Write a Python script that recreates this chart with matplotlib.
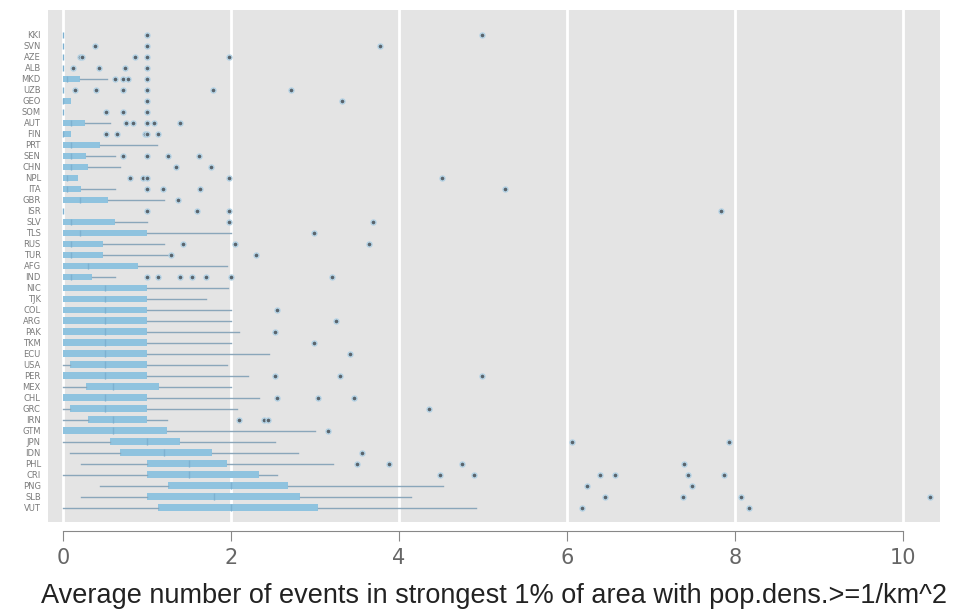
import matplotlib.pyplot as plt

# row labels, top to bottom
labels = ["KKI", "SVN", "AZE", "ALB", "MKD", "UZB", "GEO", "SOM", "AUT", "FIN",
          "PRT", "SEN", "CHN", "NPL", "ITA", "GBR", "ISR", "SLV", "TLS", "RUS",
          "TUR", "AFG", "IND", "NIC", "TJK", "COL", "ARG", "PAK", "TKM", "ECU",
          "USA", "PER", "MEX", "CHL", "GRC", "IRN", "GTM", "JPN", "IDN", "PHL",
          "CRI", "PNG", "SLB", "VUT"]

q1 = [0, 0, 0, 0, 0, 0, 0, 0, 0, 0,
      0, 0, 0, 0, 0, 0, 0, 0, 0, 0,
      0, 0, 0, 0, 0, 0, 0, 0, 0, 0,
      0.08, 0, 0.28, 0, 0.08, 0.3, 0, 0.56, 0.68, 1.0,
      1.0, 1.25, 1.0, 1.13]
med = [0, 0, 0, 0, 0.05, 0, 0, 0, 0.1, 0,
       0.1, 0.1, 0.1, 0.05, 0.05, 0.2, 0, 0.1, 0.2, 0.1,
       0.1, 0.3, 0.1, 0.5, 0.5, 0.5, 0.5, 0.5, 0.5, 0.5,
       0.5, 0.5, 0.6, 0.5, 0.5, 0.6, 0.6, 1.0, 1.2, 1.5,
       1.5, 2.0, 1.8, 2.0]
q3 = [0, 0, 0, 0, 0.2, 0, 0.1, 0, 0.26, 0.1,
      0.44, 0.27, 0.3, 0.18, 0.22, 0.54, 0, 0.62, 1.0, 0.48,
      0.48, 0.9, 0.35, 1.0, 1.0, 1.0, 1.0, 1.0, 1.0, 1.0,
      1.0, 1.0, 1.15, 1.0, 1.0, 1.0, 1.24, 1.39, 1.77, 1.96,
      2.33, 2.68, 2.82, 3.04]
whis_lo = [0, 0, 0, 0, 0, 0, 0, 0, 0, 0,
           0, 0, 0, 0, 0, 0, 0, 0, 0, 0,
           0, 0, 0, 0, 0, 0, 0, 0, 0, 0,
           0, 0, 0, 0, 0, 0, 0, 0, 0.08, 0.22,
           0, 0.44, 0.22, 0]
whis_hi = [0, 0, 0, 0, 0.52, 0, 0.1, 0, 0.56, 0.1,
           1.12, 0.62, 0.68, 0.18, 0.62, 1.2, 0, 1.0, 2.0, 1.2,
           1.27, 1.95, 0.62, 1.97, 1.71, 2.0, 2.0, 2.1, 2.0, 2.46,
           1.95, 2.2, 2.0, 2.33, 2.07, 1.24, 3.0, 2.52, 2.8, 3.22,
           2.55, 4.52, 4.15, 4.92]
outliers = [
    [1.0, 4.99],
    [0.38, 1.0, 3.77],
    [0.2, 0.23, 0.86, 1.0, 1.98],
    [0.12, 0.43, 0.74, 1.0],
    [0.62, 0.72, 0.78, 1.0],
    [0.14, 0.4, 0.71, 1.0, 1.79, 2.72],
    [1.0, 3.32],
    [0.51, 0.71, 1.0],
    [0.75, 0.84, 1.0, 1.08, 1.39],
    [0.51, 0.64, 0.98, 1.0, 1.13],
    [],
    [0.71, 1.0, 1.25, 1.62],
    [1.35, 1.76],
    [0.8, 0.96, 1.0, 1.98, 4.51],
    [1.0, 1.19, 1.63, 5.26],
    [1.37],
    [1.0, 1.6, 1.98, 7.83],
    [1.98, 3.69],
    [2.99],
    [1.43, 2.05, 3.65],
    [1.29, 2.3],
    [],
    [1.0, 1.13, 1.39, 1.54, 1.71, 2.0, 3.21],
    [],
    [],
    [2.55],
    [3.25],
    [2.53],
    [2.99],
    [3.42],
    [],
    [2.53, 3.3, 4.99],
    [],
    [2.55, 3.04, 3.47],
    [4.36],
    [2.1, 2.4, 2.44],
    [3.16],
    [6.06, 7.93],
    [3.56],
    [3.5, 3.88, 4.75, 7.4],
    [4.49, 4.9, 6.39, 6.57, 7.44, 7.87],
    [6.24, 7.49],
    [6.46, 7.38, 8.07, 10.32],
    [6.18, 8.17],
]

stats = []
for i in range(len(labels)):
    stats.append({"label": labels[i], "q1": q1[i], "med": med[i], "q3": q3[i],
                  "whislo": whis_lo[i], "whishi": whis_hi[i], "fliers": outliers[i]})

fig = plt.figure(figsize=(9.55, 6.16), dpi=100)
ax = fig.add_axes([0.05, 0.153, 0.934, 0.831])
ax.set_facecolor("#e4e4e4")

pos = list(range(len(labels)))
ax.bxp(stats, positions=pos, vert=False, widths=0.6, patch_artist=True,
       showcaps=False,
       boxprops=dict(facecolor="#8fc3df", edgecolor="none"),
       medianprops=dict(color="#7eb1d0", linewidth=1),
       whiskerprops=dict(color="#8aa6ba", linewidth=1),
       flierprops=dict(marker="o", markersize=3.6, markerfacecolor="#5a646c",
                       markeredgecolor="#b4d2e4", markeredgewidth=1))

ax.set_ylim(len(labels) - 1 + 1.27, -2.27)
ax.set_xlim(-0.18, 10.44)

ax.set_xticks([0, 2, 4, 6, 8, 10])
ax.grid(axis="x", color="white", linewidth=2)
ax.set_axisbelow(True)

for s in ["top", "right", "left"]:
    ax.spines[s].set_visible(False)
ax.spines["bottom"].set_position(("outward", 7))
ax.spines["bottom"].set_bounds(0, 10)
ax.spines["bottom"].set_color("#888888")

ax.tick_params(axis="x", colors="#888888", length=7, labelsize=15,
               labelcolor="#666666", pad=5)
ax.tick_params(axis="y", length=0, labelsize=6, labelcolor="#7a7a7a", pad=5)

ax.set_xlabel("Average number of events in strongest 1% of area with pop.dens.>=1/km^2",
              fontsize=19.5, color="#222222", family="Liberation Sans", labelpad=11)

fig.savefig("out.png")
